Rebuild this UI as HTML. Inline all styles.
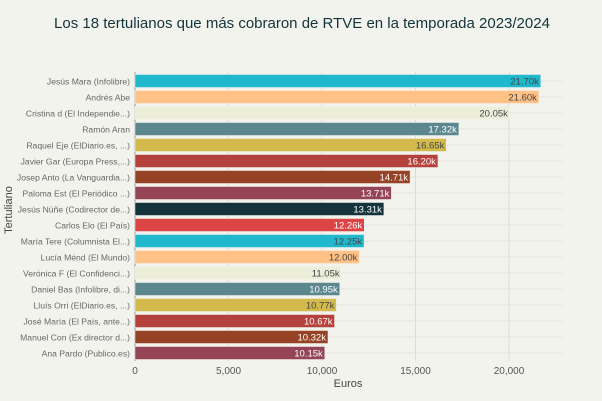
<!DOCTYPE html>
<html><head><meta charset="utf-8"><style>
body{margin:0;background:#f3f3ee;}
svg{display:block;font-family:"Liberation Sans",sans-serif;}
</style></head><body>
<svg id="c" width="602" height="401">
<rect width="602" height="401" fill="#f3f3ee"/>
<text x="302" y="28" text-anchor="middle" font-size="15" fill="#13343b">Los 18 tertulianos que más cobraron de RTVE en la temporada 2023/2024</text>
<text transform="translate(12,210) rotate(-90)" text-anchor="middle" font-size="11" fill="#444">Tertuliano</text>
<text x="348" y="387" text-anchor="middle" font-size="11" fill="#444">Euros</text>
<g id="grid"></g><g id="bars"></g>
</svg>
<script>
const categories=["Jesús Mara (Infolibre)","Andrés Abe","Cristina d (El Independie...)","Ramón Aran","Raquel Eje (ElDiario.es, ...)","Javier Gar (Europa Press,...)","Josep Anto (La Vanguardia...)","Paloma Est (El Periódico ...)","Jesús Núñe (Codirector de...)","Carlos Elo (El País)","María Tere (Columnista El...)","Lucía Ménd (El Mundo)","Verónica F (El Confidenci...)","Daniel Bas (Infolibre, di...)","Lluís Orri (ElDiario.es, ...)","José María (El País, ante...)","Manuel Con (Ex director d...)","Ana Pardo  (Publico.es)"];
const values=[21700,21600,20050,17320,16650,16200,14710,13710,13310,12260,12250,12000,11050,10950,10770,10670,10320,10150];
const valueLabels=["21.70k","21.60k","20.05k","17.32k","16.65k","16.20k","14.71k","13.71k","13.31k","12.26k","12.25k","12.00k","11.05k","10.95k","10.77k","10.67k","10.32k","10.15k"];
const ticks=[0,5000,10000,15000,20000];
const tickLabels=["0","5,000","10,000","15,000","20,000"];
const colors=["#1fb8cd","#ffc185","#eceed9","#5d878f","#d2ba4c","#b4413c","#964325","#944454","#13343b","#db4545"];
const darkText=["#1fb8cd","#ffc185","#eceed9","#d2ba4c"];
const NS="http://www.w3.org/2000/svg";
const x0=135,xs=374/20000,y0=81,step=16,bh=13,right=562;
const X=v=>x0+v*xs, Y=i=>y0+i*step;
function mk(t,a,p){const e=document.createElementNS(NS,t);for(const k in a)e.setAttribute(k,a[k]);p.appendChild(e);return e;}
const g=document.getElementById('grid'),b=document.getElementById('bars');
ticks.forEach((t,i)=>{
 const l=mk('line',{x1:X(t),x2:X(t),y1:72,y2:361,stroke:i?'#dddcd4':'#999',"stroke-width":1},g);
 
 
 const tx=mk('text',{x:X(t),y:374,"text-anchor":"middle","font-size":10,fill:'#555'},g);tx.textContent=tickLabels[i];
 
 
});
categories.forEach((c,i)=>{
 const y=Y(i);
 const hl=mk('line',{x1:x0,x2:right,y1:y,y2:y,stroke:'#e3e2da'},g);
 
 
 const col=colors[i%colors.length];
 const r=mk('rect',{x:x0,y:y-bh/2,width:X(values[i])-x0,height:bh,fill:col,stroke:'#f3f3ee',"stroke-width":0.5},b);
 
 
 const vl=mk('text',{x:X(values[i])-2,y:y+3.5,"text-anchor":"end","font-size":9.5,fill:darkText.includes(col)?'#444':'#fff'},b);vl.textContent=valueLabels[i];
 
 
 const cl=mk('text',{x:130,y:y+3.5,"text-anchor":"end","font-size":8.6,fill:'#666'},b);cl.textContent=c;
 
 
});
</script>
</body></html>
